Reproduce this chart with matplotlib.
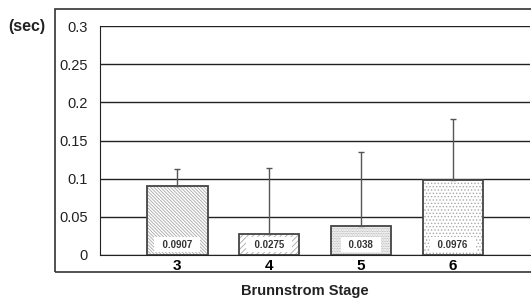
import matplotlib.pyplot as plt
from matplotlib.patches import Rectangle

plt.rcParams["font.family"] = ["Liberation Sans", "DejaVu Sans"]
plt.rcParams["hatch.linewidth"] = 0.6

stages = ["3", "4", "5", "6"]
means = [0.0907, 0.0275, 0.038, 0.0976]
sds = [0.0221, 0.0866, 0.0967, 0.080]
hatches = ["\\" * 10, "//////", "." * 10, "....."]

fig = plt.figure(figsize=(5.31, 3.01), dpi=100)

# outer frame
fig.patches.append(
    Rectangle((55 / 531, 1 - 272 / 301), 1.0, (272 - 9) / 301,
              transform=fig.transFigure, fill=False,
              edgecolor="#333333", linewidth=1.2)
)

ax = fig.add_axes([100 / 531, 1 - 255 / 301, 430 / 531, 229 / 301])

x = list(range(len(stages)))

ax.set_axisbelow(True)
ax.yaxis.grid(True, color="#222222", linewidth=1.0)

# hatched fill, then outline on top
for xi, m, h in zip(x, means, hatches):
    ax.bar(xi, m, width=0.66, color="white", edgecolor="#a8a8a8",
           hatch=h, linewidth=0, zorder=2)
ax.bar(x, means, width=0.66, fill=False, edgecolor="#444444",
       linewidth=1.3, zorder=3)

ax.errorbar(x, means, yerr=[[0] * len(sds), sds], fmt="none",
            ecolor="#555555", elinewidth=1.0, capsize=2, capthick=1.0,
            zorder=4)

# value labels in a white box near the bar base
for xi, m in zip(x, means):
    ax.text(xi, 0.0135, f"  {m:g}  ", ha="center", va="center",
            fontsize=7, fontweight="bold", color="#333333", zorder=2.6,
            bbox=dict(boxstyle="square,pad=0.25", facecolor="white",
                      edgecolor="none"))

ax.set_xlim(-0.84, 3.84)
ax.set_ylim(0, 0.3)
ax.set_yticks([0, 0.05, 0.1, 0.15, 0.2, 0.25, 0.3])
ax.set_yticklabels(["0", "0.05", "0.1", "0.15", "0.2", "0.25", "0.3"])
ax.set_xticks(x)
ax.set_xticklabels(stages, fontsize=11, fontweight="bold")
ax.tick_params(axis="y", length=0, pad=9, labelsize=10.5, colors="#222222")
ax.tick_params(axis="x", length=0, pad=3)

for s in ["top", "right"]:
    ax.spines[s].set_visible(False)
ax.spines["left"].set_color("#222222")
ax.spines["bottom"].set_color("#222222")
ax.spines["bottom"].set_zorder(3.5)

fig.text(27 / 531, 1 - 27 / 301, "(sec)", ha="center", va="center",
         fontsize=11.5, fontweight="bold", color="#222222")
fig.text(305 / 531, 1 - 291 / 301, "Brunnstrom Stage", ha="center",
         va="center", fontsize=10.5, fontweight="bold", color="#222222")

fig.savefig("out.png", dpi=100)
